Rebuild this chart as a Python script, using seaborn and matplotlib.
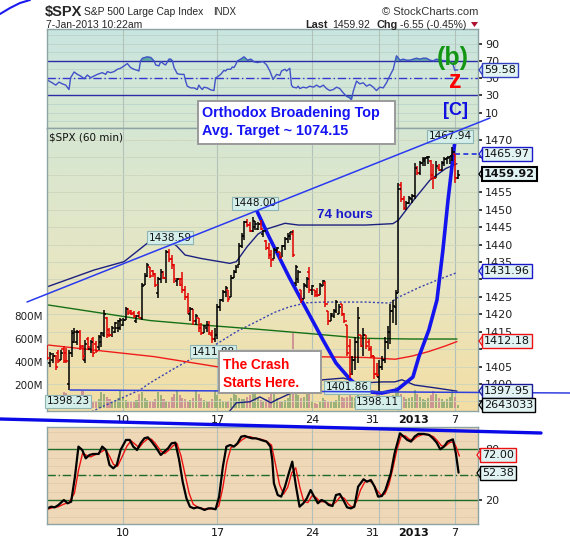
import numpy as np
import pandas as pd
import matplotlib
matplotlib.use("Agg")
import matplotlib.pyplot as plt
from matplotlib.lines import Line2D
from matplotlib.patches import Rectangle, Polygon
from matplotlib.colors import LinearSegmentedColormap
import seaborn as sns

# ---------------- data (hourly bars, 4-Dec-2012 .. 7-Jan-2013) ----------------
opens = [1410,1406,1407,1408,1409,1407,1410, 1409,1400,1409,1412,1412,1415,1411,
         1407,1413,1410,1413,1411.5,1410.5,1412, 1414,1419,1415.5,1414,1415,1416,1416,
         1417,1418.5,1421.5,1421,1420.5,1418,1420.5, 1419,1428.5,1431,1433.5,1432.5,1431.5,1426,
         1430,1432,1430.5,1438,1436,1434,1429.5, 1430,1430,1427,1425,1420,1421.5,1418,
         1419,1416,1414.5,1416,1417,1414,1413, 1414,1422,1424,1426.5,1427,1425,1430.5,
         1432,1434,1439.5,1442.5,1446.5,1445.5,1444, 1445,1444.5,1446,1443,1441,1439,1437,
         1436,1438.5,1438,1436.5,1439.5,1441.5,1442.5, 1443,1429,1430,1427,1424.5,1428,1432,
         1427,1427,1426.5,1425.5, 1428,1429,1421,1418,1419.5,1421,1420,
         1423,1420,1417,1411,1403,1407,1412, 1414,1411,1414,1412,1410,1408,1403,
         1402,1405,1407,1412,1415,1421,1422, 1426,1457,1453,1450.5,1452,1453,1454,
         1462,1460.5,1463.5,1464,1465,1464,1460, 1459,1462,1461.5,1463.5,1464.5,1465,1465.5,
         1466,1459]
highs = [1411.2,1409.3,1408.8,1408.3,1409.8,1409.8,1410.9, 1410.2,1409.8,1415.5,1416,1415.5,1415.5,1411.2,
         1412.6,1413.6,1412.6,1413.6,1412.2,1414,1415, 1421.2,1419.3,1416,1416.5,1417.9,1418.4,1418.9,
         1418.9,1422.2,1421.7,1421.2,1420.8,1419.8,1420.8, 1428.9,1431.8,1434.6,1433.7,1432.7,1431.7,1430.8,
         1433,1432.5,1438.3,1438.59,1437,1434.5,1430.5, 1430.5,1432,1428,1426,1422,1421.5,1420,
         1419,1417.5,1417,1418,1418,1415.5,1416, 1423,1424.5,1427,1428,1427,1431.3,1432.7,
         1434.1,1440.4,1443.2,1446.8,1447.2,1446.5,1448.0, 1446.8,1446.5,1447,1444.2,1441.3,1440.4,1438.4,
         1438.9,1439.4,1438,1439.9,1442.2,1443.2,1443.7, 1444.2,1434.1,1432.7,1427,1428.9,1430.8,1433.7,
         1428.4,1427,1427.5,1429, 1429.8,1429.5,1421,1420.5,1421.5,1424,1423,
         1423,1420.5,1417,1413,1408,1413.5,1422, 1414,1416,1414,1413,1411,1408,1406,
         1407,1408,1413.5,1416.5,1423,1424,1427, 1457.6,1458,1454,1452.5,1454,1454.5,1463.3,
         1462.5,1464,1465,1465,1465.5,1464.3,1463, 1464,1463,1464,1465,1465,1465.5,1467.94,
         1466,1461.4]
lows = [1406.9,1405,1405.9,1404,1405.9,1406.9,1405.9, 1405.9,1398.23,1407.8,1411.7,1411.2,1409.8,1406.9,
        1405.9,1409.8,1408.8,1407.8,1408.8,1409.8,1410.7, 1413.6,1413.1,1413.6,1413.6,1414.5,1415,1415.5,
        1416.5,1418.3,1419.8,1419.8,1418.9,1417.4,1418.9, 1418.4,1428.4,1430.8,1430.3,1430.8,1427.9,1424.6,
        1429,1430,1429,1435,1433,1429,1428, 1428,1426,1424,1420,1418,1417,1417,
        1415,1414,1414.5,1415,1414,1411.88,1412, 1413,1421,1423.5,1425,1423.6,1425,1430.5,
        1431.8,1434,1439,1441.3,1445,1443.5,1443.5, 1444.2,1444.2,1444.2,1442.2,1438.4,1436,1433.7,
        1436,1437.5,1436,1436.5,1438.4,1440.4,1441.3, 1436.5,1428,1429,1423.1,1424.5,1427.5,1426,
        1425.5,1425,1425,1425.5, 1428,1422,1417,1418,1419,1420.5,1420,
        1419.5,1417.5,1408,1401.86,1402.5,1404,1406, 1410.5,1408,1410,1409.5,1407.5,1401.5,1402,
        1398.11,1404,1406,1410,1411.5,1417.5,1417, 1426,1452.3,1449.8,1450,1451.5,1452,1453,
        1460,1460,1462.5,1462.5,1463,1458.5,1456, 1459,1461,1461,1462.5,1463,1463,1464,
        1457.6,1458.8]
closes = [1407.5,1408.5,1408,1405,1406.5,1409,1406.5, 1406.5,1409,1414.5,1415,1415,1410.5,1408,
          1411.5,1410.5,1412,1409,1409.5,1413.5,1414.5, 1420,1414,1414,1416,1417.5,1418,1418.5,
          1418.5,1421.5,1420.5,1420,1419.5,1419.5,1419, 1428,1431,1434,1431,1431.5,1428.5,1430,
          1432,1430.5,1438,1436,1434,1430,1430, 1428.5,1427,1425,1421,1421.5,1418,1419.5,
          1416,1414.5,1416.5,1417,1414.5,1413,1414, 1422,1424,1426.5,1427.5,1424.5,1430.5,1432,
          1433.5,1439.5,1442.5,1446.5,1445.5,1444,1446.8, 1446,1446,1444.5,1444,1439,1437,1435.5,
          1438.5,1439,1436.5,1439.5,1441.5,1442.5,1443.5, 1437,1433.5,1432,1424,1428.5,1430,1427,
          1428,1425.5,1425.5,1428.5, 1429.5,1423,1418,1420,1421,1423.5,1422,
          1420,1418,1409,1403,1407,1412,1419, 1411,1414,1411,1410,1408,1403,1402.5,
          1405,1407,1412,1415,1421,1422.5,1426, 1456,1453,1450.5,1452,1453.5,1454,1462,
          1460.5,1463.5,1464.5,1464.8,1465,1460,1459, 1462.5,1461.5,1463.5,1464.5,1464.8,1465.3,1466.5,
          1459,1459.92]
volumes_m = [120,85,70,60,75,85,140, 130,110,80,65,70,90,150, 115,80,70,55,65,80,135,
             125,95,75,60,70,85,145, 100,70,55,50,55,70,120, 135,90,70,60,65,80,140,
             110,75,65,55,95,120,150, 115,85,75,65,70,85,150, 120,90,70,60,65,80,145,
             110,80,65,55,60,85,140, 115,85,75,80,95,110,165, 125,90,70,65,75,95,155,
             120,85,65,60,70,90,150, 650,170,110,90,95,120,210, 60,40,35,55,
             85,70,55,50,55,70,110, 95,85,95,110,100,90,160, 90,75,60,55,65,80,150,
             110,85,70,65,80,110,180, 160,120,95,80,85,100,160, 125,95,80,70,85,110,150,
             120,90,75,65,75,95,155, 100,26]

tick_pos = [28, 63, 98, 123, 130, 151]
tick_labels = ["10", "17", "24", "31", "2013", "7"]

# RSI(14) vertices (bar index, value)
rsi_x = [0,0.6,1.8,3.1,4.3,5.5,6.8,8.0,8.6,9.9,11.1,12.3,13.6,14.8,16.0,17.3,18.5,20.3,21.6,22.2,
         23.4,24.7,25.9,27.1,28.4,29.6,30.8,32.1,33.3,33.9,34.5,35.2,37.0,38.3,39.5,40.1,41.3,42.0,43.2,43.8,
         45.0,45.7,46.3,46.9,48.1,49.4,50.6,51.2,51.8,53.1,54.3,55.5,56.1,56.8,57.4,58.0,59.2,60.5,61.7,62.3,
         62.9,64.2,65.4,66.0,66.6,67.9,68.5,69.1,69.7,70.4,71.6,72.8,73.4,74.1,75.3,75.9,76.5,77.8,
         79.9,81.2,82.4,83.6,84.9,86.1,86.7,88.0,88.6,89.8,90.4,91.0,92.3,92.9,93.5,94.7,96.0,97.2,98.5,99.7,
         100.9,102.2,103.4,104.6,105.9,107.1,108.3,109.6,110.8,112.0,112.6,113.3,114.5,115.7,117.0,118.2,119.4,120.7,121.9,123.1,
         124.4,125.6,126.8,128.1,129.3,130.6,131.8,133.0,134.3,135.5,136.7,138.0,139.2,140.4,141.7,142.9,144.1,145.4,147.8,149.1,
         150.3,150.9,152.0]
rsi_v = [48.4,46.5,44.5,41.8,45.3,43.3,41.8,36.7,50.4,57.1,54.3,52.4,49.2,53.5,50.4,52.4,54.3,56.3,54.3,57.5,
         56.3,57.5,60.2,61.4,64.1,66.9,62.2,60.2,59.0,58.2,70.0,73.1,74.7,73.9,70.0,65.3,64.1,69.2,66.1,65.3,
         72.0,72.0,70.0,62.2,55.1,54.3,54.3,46.5,40.6,38.6,38.6,36.7,41.8,38.6,36.7,39.4,38.6,36.3,35.5,50.4,
         51.2,54.3,59.0,58.2,60.2,60.2,62.9,62.2,65.3,70.0,72.0,74.7,73.1,70.8,72.0,70.8,68.8,68.0,
         69.2,65.3,58.2,48.4,54.3,53.1,58.2,60.2,58.2,61.4,41.8,39.4,38.6,40.6,37.8,39.4,38.6,40.6,39.4,41.8,
         39.4,41.8,37.8,35.5,36.7,39.4,37.8,32.7,28.8,26.9,24.9,34.7,46.5,43.3,44.5,40.6,42.5,39.4,35.5,39.4,
         38.6,44.5,52.4,60.2,75.9,70.8,72.0,70.8,70.8,72.0,73.1,72.0,73.1,73.1,70.8,70.0,72.0,70.8,70.0,69.2,
         65.3,59.0,59.58]

# Slow stochastic %K (black) and %D (red) vertices
k_x = [0.0,1.4,2.7,4.1,6.1,7.5,8.8,10.2,11.5,12.9, 14.2,15.6,17.0,19.0,20.3,21.7,23.0,24.4,25.7,27.1,
       29.1,30.5,31.8,33.2,34.5,35.9,37.2,38.6,40.0,42.0, 43.3,44.7,46.0,47.4,48.8,50.1,51.5,52.8,54.2,55.5,
       56.9,58.2,59.6,60.9,62.3,63.6,65.0,66.3,67.7,69.1, 70.4,71.8,73.1,74.5,75.8,77.2,78.5,79.9,81.2,82.6,
       83.3,83.9,85.3,86.6,88.0,89.4,90.7,92.1,93.4,94.8, 96.1,97.5,98.8,100.2,101.5,102.9,104.2,105.6,106.9,108.3,
       109.6,111.0,112.4,113.7,115.1,117.1,118.4,119.8,121.2,122.5, 123.9,125.2,127.2,128.6,130.6,132.0,133.3,134.7,136.0,137.4,
       139.4,141.4,142.8,144.2,145.5,146.9,148.2,150.2,151.3,152.3]
k_v = [10.1,12.1,11.3,14.1,20.0,16.1,18.0,47.6,83.2,79.2, 69.3,73.3,74.5,74.5,83.2,79.2,61.4,57.5,61.4,79.2,
       91.1,91.1,83.2,79.2,87.1,93.0,94.2,89.1,83.2,73.3, 77.2,81.2,87.1,87.9,67.4,41.7,22.0,12.1,10.1,11.3,
       10.1,8.2,10.1,10.1,9.0,24.0,59.5,83.2,85.1,83.2, 87.1,95.0,95.8,94.2,93.0,93.0,91.8,90.3,89.1,83.2,
       67.4,39.7,25.9,24.0,35.8,51.6,65.4,35.8,12.1,16.1, 22.0,31.8,24.0,16.1,20.0,18.0,14.1,12.9,25.9,27.1,
       20.0,11.3,10.1,12.1,35.8,44.5,41.7,43.7,35.8,24.0, 24.7,31.8,51.6,75.3,98.9,95.0,91.1,89.1,95.0,98.2,
       98.2,97.0,93.0,87.9,80.0,83.2,89.1,91.8,75.3,52.38]
d_x = [0,2,4,6,8,10,11.5,13,14.5,16,18,20,21.5,23,24.5,26,27.5,29.5,31,32.5,34,35.5,37,38.5,40,42,43.5,45,
       46.5,48,49.5,51,52.5,54,56,58,60,62,63.5,65,66.5,68,70,72,73.5,75,77,79,81,83,84.5,86,87.5,89,90.5,
       92,93.5,95,96.5,98,99.5,101,102.5,104,105.5,107,108.5,110,111.5,113,114.5,116,117.5,119,120.5,122,
       123.5,125,126.5,128,129.5,131,132.5,134,135.5,137,139,141,143,144.5,146,147.5,149,150.5,151.5,152.6]
d_v = [9,11,12,15,17,28,55,75,73,71,74,77,80,72,62,60,70,84,90,86,82,88,92,92,87,78,75,79,
       84,87,72,50,28,15,11,9.5,9.5,9.5,13,35,65,82,85,91,94,95,93,92,90,85,62,38,27,35,52,
       58,35,18,17,25,23,18,18,16,14,18,24,22,15,11,18,32,41,43,40,32,
       26,27,38,58,80,95,96,92,91,95,97.5,97.5,95,90,84,84,88,89,82,72]

# moving averages / bands on the price panel (bar index, price)
upper_x = [0,17.3,28.4,38,44,48,51,57,67.6,70,74,78,81,88,93,118,128,130,135.4,141.7,147.5,151.7]
upper_v = [1427.9,1432.7,1435.1,1441,1442,1439.5,1437,1436,1434.6,1435.1,1439.4,1443,1444.4,1446.1,
           1445.6,1445.6,1446,1447,1452.5,1458.5,1461.8,1463.2]
lower_x = [0,55,62,67.6,70,75,78.7,82.8,84.7,90.3,96,102,109.7,114.3,116.5,124.2,128.7,131.3,136,143.5,151.7]
lower_v = [1380,1386,1389,1392.3,1394.6,1394.9,1396.3,1394.6,1395.4,1397.4,1399.5,1401.2,1401.7,1400.6,
           1400.3,1400.6,1400.6,1401.2,1399.7,1398.9,1397.95]
dotted_x = [15,20,34.3,38,46,54,62.7,70,78.7,84,89.5,96,102,118,126.9,129.5,138,145,151.7]
dotted_v = [1391.5,1393.4,1398.3,1400.3,1404,1407.5,1411.5,1415,1418.4,1420.5,1422.1,1423.3,1423.5,
            1423.5,1423.2,1424.7,1427.8,1430,1431.96]
green_x = [0,19.5,38,56,78,98,117,135,151.7]
green_v = [1422.7,1420.4,1418.2,1417,1415.7,1414.4,1413.1,1412.9,1412.9]
red_x = [0,20,39.5,52,64,75,90,101,118,128.8,135,141.2,147.4,151.7]
red_v = [1411.2,1409.5,1407.85,1406.3,1404.8,1405.5,1406.8,1407.8,1407.6,1407.1,1408,1409.3,1410.9,1412.18]

# hand-drawn "crash" curve (bar index, price)
curve_x = [76.9,82.1,89.5,94.7,102.1,106.9,111.7,115.4,119.5,123.9,129.5,135.4,137.6,141.3,144.3,146.5,148.4,151.0]
curve_v = [1450.8,1442.2,1430.7,1423.2,1412.6,1406.0,1401.7,1398.9,1397.7,1397.4,1398.3,1402.0,1407.8,
           1415.5,1424.1,1438.4,1452.8,1470.0]

# price axis tick labels (those hidden under value tags in the original are left blank)
price_ticks = list(range(1395, 1471, 5))
price_tick_labels = ['' if v in (1395, 1410, 1430, 1460, 1465) else str(v) for v in price_ticks]

# ---------------- figure ----------------
sns.set_theme(style="white")
plt.rcParams['font.family'] = ['DejaVu Sans']
plt.rcParams['axes.axisbelow'] = True

W, H = 570, 540
fig = plt.figure(figsize=(W / 100, H / 100), dpi=100)
fig.patch.set_facecolor('white')


def fx(x):
    return x / W


def fy(y):
    return 1 - y / H


def rect(x0, y0, x1, y1):
    return [fx(x0), fy(y1), (x1 - x0) / W, (y1 - y0) / H]


XL = (-0.15, 159.5)
n = len(closes)
bar_x = np.arange(n)
o = np.array(opens, float); c = np.array(closes, float)
up = c >= o


def gradient(ax, colors):
    cmap = LinearSegmentedColormap.from_list('g', colors)
    img = np.linspace(0, 1, 256).reshape(-1, 1)
    ax.imshow(img, cmap=cmap, extent=[0, 1, 0, 1], transform=ax.transAxes,
              aspect='auto', origin='upper', zorder=-5, interpolation='bilinear')


def style_panel(ax, grid=True):
    for s in ax.spines.values():
        s.set_color('#8ea4a4'); s.set_linewidth(1.0)
    ax.set_xlim(*XL)
    ax.tick_params(axis='x', length=0, labelsize=8, pad=3, colors='#111')
    ax.yaxis.tick_right()
    ax.tick_params(axis='y', length=3, labelsize=8, colors='#222', pad=2)
    ax.set_xlabel(''); ax.set_ylabel('')
    if grid:
        for t in tick_pos:
            ax.axvline(t, color='#b2c2ba', lw=0.8, zorder=-1)


def sline(ax, xs, ys, **kw):
    sns.lineplot(x=np.asarray(xs, float), y=np.asarray(ys, float), ax=ax,
                 estimator=None, sort=False, legend=False, **kw)


def fix_xlabels(ax):
    for lab in ax.get_xticklabels():
        if lab.get_text() == '2013':
            lab.set_fontweight('bold')
            lab.set_horizontalalignment('left')
        elif lab.get_text() == '31':
            lab.set_horizontalalignment('right')


# ---- RSI panel ----
ax_r = fig.add_axes(rect(47, 29, 478, 128))
gradient(ax_r, ['#c9e5e0', '#d8e8d0'])
for v in range(0, 101, 10):
    ax_r.axhline(v, color='#bcd3cb', lw=0.6, zorder=-1)
ax_r.axhline(70, color='#2b2ba8', lw=1.0)
ax_r.axhline(30, color='#2b2ba8', lw=1.0)
ax_r.axhline(50, color='#3535d0', lw=1.0, linestyle=(0, (6, 2, 1, 2)))
rx = np.array(rsi_x, float); rv = np.array(rsi_v, float)
ax_r.fill_between(rx, 70, rv, where=rv > 70, interpolate=True, color='#5aa99f', lw=0)
ax_r.fill_between(rx, 30, rv, where=rv < 30, interpolate=True, color='#5aa99f', lw=0)
sline(ax_r, rx, rv, color='#4152c8', lw=1.0)
ax_r.set_ylim(-8, 107)
ax_r.set_yticks([10, 30, 50, 70, 90])
ax_r.set_xticks(tick_pos); ax_r.set_xticklabels([])
style_panel(ax_r)
ax_r.set_ylim(-8, 107)

# ---- volume (under price) ----
ax_v = fig.add_axes(rect(47, 128, 478, 411))
gradient(ax_v, ['#d5e6d3', '#e7e6c3', '#f3dea4'])
vol_df = pd.DataFrame({'x': bar_x, 'vol': volumes_m, 'dir': np.where(up, 'up', 'down')})
sns.barplot(data=vol_df, x='x', y='vol', hue='dir', palette={'up': '#9dba70', 'down': '#d88b8b'},
            native_scale=True, dodge=False, width=0.75, errorbar=None, legend=False,
            ax=ax_v, linewidth=0)
ax_v.set_xlim(*XL)
ax_v.set_ylim(-26, 2435)
ax_v.set_xticks([])
ax_v.set_yticks([200, 400, 600, 800])
ax_v.set_yticklabels(['200M', '400M', '600M', '800M'])
ax_v.yaxis.tick_left()
ax_v.tick_params(axis='y', length=0, labelsize=7.5, pad=3, colors='#222')
ax_v.set_xlabel(''); ax_v.set_ylabel('')
for s in ax_v.spines.values():
    s.set_visible(False)
for t in tick_pos:
    ax_v.axvline(t, color='#b2c2ba', lw=0.8, zorder=-1)

# ---- price panel ----
ax_p = fig.add_axes(rect(47, 128, 478, 411))
ax_p.patch.set_visible(False)
for v in range(1395, 1475, 5):
    ax_p.axhline(v, color='#cdd5bd', lw=0.6, zorder=0)
sline(ax_p, upper_x, upper_v, color='#1c2180', lw=1.0)
sline(ax_p, lower_x, lower_v, color='#1c2180', lw=1.0)
sline(ax_p, dotted_x, dotted_v, color='#3a44b0', lw=1.0, linestyle=(0, (1.5, 1.5)))
sline(ax_p, green_x, green_v, color='#167016', lw=1.0)
sline(ax_p, red_x, red_v, color='#f01c1c', lw=1.0)
col = np.where(up, '#000000', '#e20000')
ax_p.vlines(bar_x, lows, highs, colors=col, lw=1.1, zorder=4)
ax_p.hlines(opens, bar_x - 0.8, bar_x, colors=col, lw=1.1, zorder=4)
ax_p.hlines(closes, bar_x, bar_x + 0.8, colors=col, lw=1.1, zorder=4)
sline(ax_p, curve_x, curve_v, color='#1414ee', lw=2.6)
ax_p.plot([151, 159.5], [1465.97, 1465.97], ls=(0, (3, 2)), color='#2030e0', lw=1.2)
ax_p.set_ylim(1392.25, 1473.44)
ax_p.set_yticks(price_ticks)
ax_p.set_yticklabels(price_tick_labels)
ax_p.set_xticks(tick_pos); ax_p.set_xticklabels(tick_labels)
style_panel(ax_p, grid=False)
ax_p.set_ylim(1392.25, 1473.44)
fix_xlabels(ax_p)
ax_p.text(0.004, 0.985, '$SPX (60 min)', transform=ax_p.transAxes, fontsize=7.5,
          va='top', ha='left', color='#111')

lab_box = dict(boxstyle='square,pad=0.15', fc='#d4eeea', ec='#8fb4b4', lw=0.8)
for (lx, ly, txt) in [(76.9, 1451.9, '1448.00'), (45.4, 1442.0, '1438.59'), (7.6, 1395.1, '1398.23'),
                      (61.3, 1409.2, '1411.88'), (111.0, 1399.1, '1401.86'), (122.4, 1394.8, '1398.11'),
                      (149.1, 1471.1, '1467.94')]:
    ax_p.text(lx, ly, txt, fontsize=7.5, ha='center', va='center', bbox=lab_box, zorder=6, color='#111')

# ---- stochastic panel ----
ax_s = fig.add_axes(rect(47, 427, 478, 524))
ax_s.set_facecolor('#eed8b7')
for v in range(0, 101, 10):
    ax_s.axhline(v, color='#e2cba8', lw=0.6, zorder=-1)
ax_s.axhline(80, color='#1e6a2a', lw=1.0)
ax_s.axhline(20, color='#1e6a2a', lw=1.0)
ax_s.axhline(50, color='#1e6a2a', lw=1.0, linestyle=(0, (6, 2, 1, 2)))
sline(ax_s, d_x, d_v, color='#ee1111', lw=1.0)
sline(ax_s, k_x, k_v, color='#000000', lw=1.6)
ax_s.set_ylim(-8.4, 106.4)
ax_s.set_yticks([20, 80])
ax_s.set_xticks(tick_pos); ax_s.set_xticklabels(tick_labels)
style_panel(ax_s)
ax_s.set_ylim(-8.4, 106.4)
fix_xlabels(ax_s)


# ---------------- annotations ----------------
def fig_line(xs, ys, **kw):
    fig.add_artist(Line2D([fx(x) for x in xs], [fy(y) for y in ys], transform=fig.transFigure, **kw))


fig_line([27, 490], [302, 118], color='#2a3af0', lw=1.1, zorder=5)
fig_line([70, 570], [390, 393], color='#3040e0', lw=1.1, zorder=5)
fig_line([0, 541], [419, 433], color='#0a0ae8', lw=2.4, zorder=5)
fig_line([0, 10, 20, 30], [14, 8, 3, 0], color='#1a1aee', lw=1.5, zorder=5)


def fig_box(x0, y0, x1, y1):
    fig.add_artist(Rectangle((fx(x0), fy(y1)), (x1 - x0) / W, (y1 - y0) / H, transform=fig.transFigure,
                             fc='white', ec='#9a9a9a', lw=1.4, zorder=6))


TF = ['Liberation Sans', 'DejaVu Sans']
fig_box(198, 101, 395, 144)
fig.text(fx(202), fy(113), 'Orthodox Broadening Top', color='#1414f5', fontsize=10.4,
         fontweight='bold', family=TF, va='center', ha='left', zorder=7)
fig.text(fx(202), fy(131), 'Avg. Target ~ 1074.15', color='#1414f5', fontsize=10.4,
         fontweight='bold', family=TF, va='center', ha='left', zorder=7)
fig_box(219, 351, 321, 393)
fig.text(fx(223), fy(365), 'The Crash', color='#ff0000', fontsize=9.8,
         fontweight='bold', family=TF, va='center', ha='left', zorder=7)
fig.text(fx(223), fy(383), 'Starts Here.', color='#ff0000', fontsize=9.8,
         fontweight='bold', family=TF, va='center', ha='left', zorder=7)
fig.text(fx(345), fy(215), '74 hours', color='#1a1acc', fontsize=9.6,
         fontweight='bold', family=TF, va='center', ha='center', zorder=7)
fig.text(fx(453), fy(58), '(b)', color='#139613', fontsize=18,
         fontweight='bold', family=TF, va='center', ha='center', zorder=7)
fig.text(fx(455), fy(81), 'z', color='#ff0000', fontsize=18,
         fontweight='bold', family=TF, va='center', ha='center', zorder=7)
fig.text(fx(455), fy(111), '[C]', color='#1010e0', fontsize=13,
         fontweight='bold', family=TF, va='center', ha='center', zorder=7)

# header
fig.text(fx(45), fy(12), '$SPX', fontsize=10.5, fontweight='bold', family=TF, va='center', ha='left')
fig.text(fx(84), fy(12), 'S&P 500 Large Cap Index', fontsize=7.4, family=TF, va='center', ha='left')
fig.text(fx(213), fy(12), 'INDX', fontsize=7, family=TF, va='center', ha='left')
fig.text(fx(478), fy(12), '\u00a9 StockCharts.com', fontsize=8, family=TF, va='center', ha='right',
         color='#333')
fig.text(fx(46), fy(25), '7-Jan-2013 10:22am', fontsize=7.5, family=TF, va='center', ha='left')
fig.text(fx(305), fy(25), 'Last', fontsize=7.8, fontweight='bold', family=TF, va='center', ha='left')
fig.text(fx(332), fy(25), '1459.92', fontsize=7.5, family=TF, va='center', ha='left')
fig.text(fx(376), fy(25), 'Chg', fontsize=7.8, fontweight='bold', family=TF, va='center', ha='left')
fig.text(fx(400), fy(25), '-6.55 (-0.45%)', fontsize=7.5, family=TF, va='center', ha='left')
fig.add_artist(Polygon([[fx(471), fy(22)], [fx(478), fy(22)], [fx(474.5), fy(27)]], closed=True,
                       transform=fig.transFigure, fc='#b01030', ec='none', zorder=5))


# right-hand value tags
def tag(y, text, ec, bold=False, x=484):
    fig.text(fx(x), fy(y), text, fontsize=8, fontweight='bold' if bold else 'normal', va='center',
             ha='left', family='DejaVu Sans', color='#111', zorder=10,
             bbox=dict(boxstyle='square,pad=0.15', fc='#e2f3f3', ec=ec, lw=1.5 if bold else 1.0))
    fig.add_artist(Polygon([[fx(x - 5), fy(y)], [fx(x - 1.5), fy(y - 5)], [fx(x - 1.5), fy(y + 5)]],
                           closed=True, transform=fig.transFigure, fc='#e2f3f3', ec=ec, lw=0.9, zorder=9))


tag(70, '59.58', '#3040c0')
tag(154, '1465.97', '#1a1acc')
tag(174, '1459.92', '#000000', bold=True)
tag(271, '1431.96', '#1a1acc')
tag(341, '1412.18', '#ee1111')
tag(391, '1397.95', '#1a1a99')
tag(405, '2643033', '#000000')
tag(455, '72.00', '#ee1111', x=482)
tag(473, '52.38', '#000000', x=482)

fig.savefig('out.png', dpi=100)
